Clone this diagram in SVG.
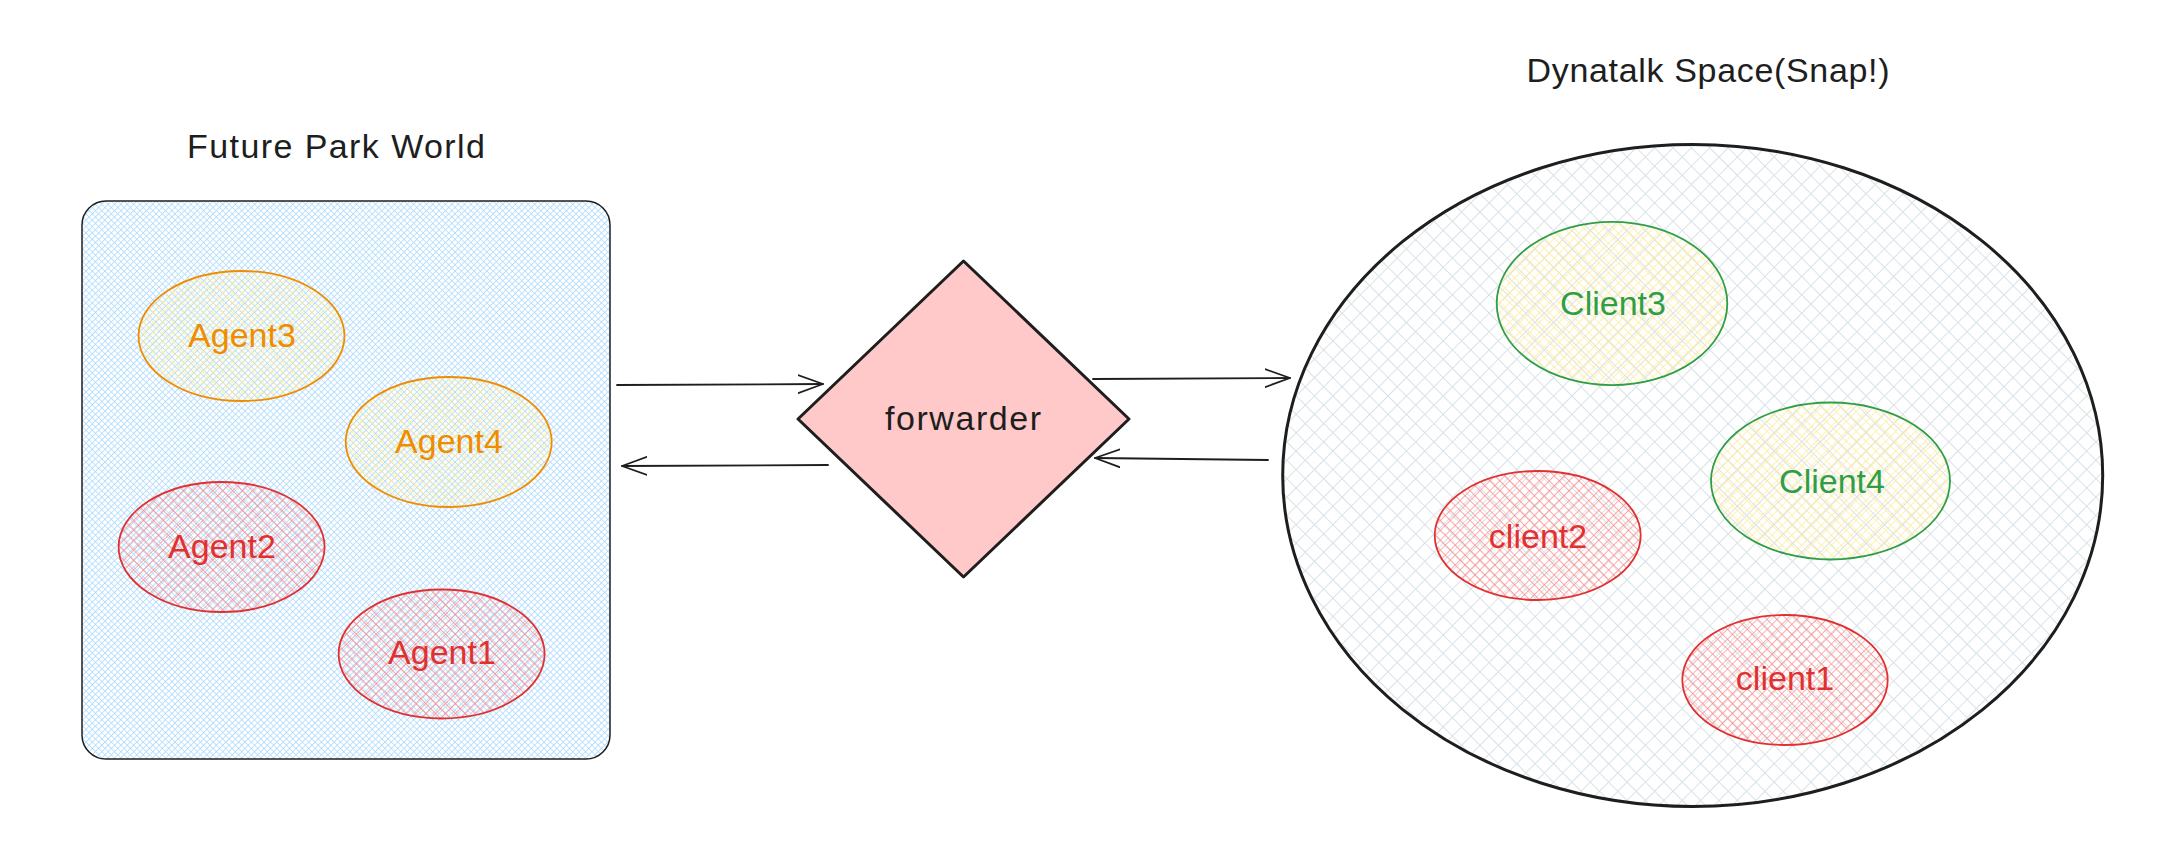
<svg xmlns="http://www.w3.org/2000/svg" width="2182" height="854" viewBox="0 0 2182 854">
  <style>
    text { font-family: "Liberation Sans", "DejaVu Sans", sans-serif; font-size: 34px; text-anchor: middle; }
    .title { fill: #1e1e1e; }
    .orange { fill: #f08c00; }
    .red { fill: #e03131; }
    .green { fill: #2f9e44; }
    .arrow { fill: none; stroke: #1e1e1e; stroke-width: 1.8; stroke-linecap: round; marker-end: url(#head); }
  </style>
  <defs>
    <pattern id="hBlue" patternUnits="userSpaceOnUse" width="4.5" height="4.5" patternTransform="rotate(45)">
      <path d="M0 0H4.5M0 0V4.5" stroke="#a5d8ff" stroke-width="1.5" fill="none"/>
    </pattern>
    <pattern id="hYellow" patternUnits="userSpaceOnUse" width="7" height="7" patternTransform="rotate(45)">
      <path d="M0 0H7M0 0V7" stroke="#ffec99" stroke-width="1.5" fill="none"/>
    </pattern>
    <pattern id="hRed" patternUnits="userSpaceOnUse" width="7" height="7" patternTransform="rotate(45)">
      <path d="M0 0H7M0 0V7" stroke="#ff8787" stroke-width="1.4" fill="none"/>
    </pattern>
    <pattern id="hGrey" patternUnits="userSpaceOnUse" width="13" height="13" patternTransform="rotate(45)">
      <path d="M0 0H13M0 0V13" stroke="#d8e2e8" stroke-width="2" fill="none"/>
    </pattern>
    <marker id="head" viewBox="0 0 27 20" refX="25" refY="10" markerWidth="27" markerHeight="20" markerUnits="userSpaceOnUse" orient="auto">
      <path d="M0 1 L25 10 L0 19" fill="none" stroke="#1e1e1e" stroke-width="1.8" stroke-linecap="round" stroke-linejoin="round"/>
    </marker>
  </defs>

  <g id="future-park-world">
    <rect x="82" y="201" width="528" height="558" rx="24" ry="24" fill="#ffffff"/>
    <rect x="82" y="201" width="528" height="558" rx="24" ry="24" fill="url(#hBlue)" stroke="#1e1e1e" stroke-width="1.5"/>
    <text class="title" x="336" y="158" textLength="298" lengthAdjust="spacing">Future Park World</text>
  </g>

  <g id="agent3">
    <ellipse cx="241.5" cy="336" rx="103" ry="65" fill="url(#hYellow)" stroke="#f08c00" stroke-width="1.8"/>
    <text class="orange" x="242" y="347">Agent3</text>
  </g>
  <g id="agent4">
    <ellipse cx="448.7" cy="442" rx="103" ry="65" fill="url(#hYellow)" stroke="#f08c00" stroke-width="1.8"/>
    <text class="orange" x="449" y="453">Agent4</text>
  </g>
  <g id="agent2">
    <ellipse cx="221.6" cy="547" rx="103" ry="65" fill="url(#hRed)" stroke="#e03131" stroke-width="1.8"/>
    <text class="red" x="222" y="558">Agent2</text>
  </g>
  <g id="agent1">
    <ellipse cx="441.6" cy="654" rx="103" ry="64.5" fill="url(#hRed)" stroke="#e03131" stroke-width="1.8"/>
    <text class="red" x="442" y="664">Agent1</text>
  </g>

  <g id="forwarder">
    <polygon points="963.5,261 1129,419 963.5,577 798,419" fill="#ffc9c9" stroke="#1e1e1e" stroke-width="3" stroke-linejoin="round"/>
    <text class="title" x="963" y="430" textLength="156" lengthAdjust="spacing">forwarder</text>
  </g>

  <g id="dynatalk-space">
    <ellipse cx="1692.7" cy="475.5" rx="410" ry="331" fill="url(#hGrey)" stroke="#1e1e1e" stroke-width="3"/>
    <text class="title" x="1708" y="82" textLength="363" lengthAdjust="spacing">Dynatalk Space(Snap!)</text>
  </g>

  <g id="client3">
    <ellipse cx="1612" cy="303.5" rx="115.3" ry="81.7" fill="url(#hYellow)" stroke="#2f9e44" stroke-width="1.8"/>
    <text class="green" x="1613" y="315">Client3</text>
  </g>
  <g id="client4">
    <ellipse cx="1830.5" cy="481" rx="119.5" ry="78.5" fill="url(#hYellow)" stroke="#2f9e44" stroke-width="1.8"/>
    <text class="green" x="1832" y="493">Client4</text>
  </g>
  <g id="client2">
    <ellipse cx="1537.7" cy="535.5" rx="103" ry="64.5" fill="url(#hRed)" stroke="#e03131" stroke-width="1.8"/>
    <text class="red" x="1538" y="548">client2</text>
  </g>
  <g id="client1">
    <ellipse cx="1785" cy="680" rx="102.7" ry="65" fill="url(#hRed)" stroke="#e03131" stroke-width="1.8"/>
    <text class="red" x="1785" y="690">client1</text>
  </g>

  <g id="connectors">
    <path class="arrow" d="M617 385 L823 384"/>
    <path class="arrow" d="M828 465 L622 466"/>
    <path class="arrow" d="M1093 379 L1290 378"/>
    <path class="arrow" d="M1268 460 L1095 458"/>
  </g>
</svg>
